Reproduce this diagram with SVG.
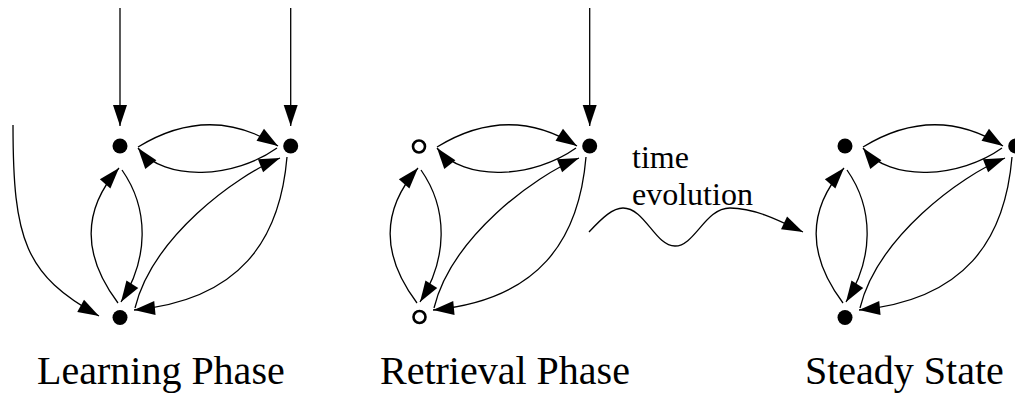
<svg xmlns="http://www.w3.org/2000/svg" width="1015" height="394" viewBox="0 0 1015 394" font-family="'Liberation Serif', serif">
  <defs>
    <marker id="ah" markerUnits="userSpaceOnUse" markerWidth="24" markerHeight="16" refX="21" refY="7" orient="auto" overflow="visible">
      <path d="M0,0 L21,7 L0,14 z" fill="#000" stroke="none"/>
    </marker>
  </defs>
  <rect width="1015" height="394" fill="#fff"/>

  <g id="connectors" fill="none" stroke="#000" stroke-width="1.3" marker-end="url(#ah)">
    <g id="edges-learning">
      <path d="M120,8 L120,126"/>
      <path d="M290.7,8 L290.7,126"/>
      <path d="M13,125 C13,240 25,275 99,316"/>
      <path d="M138,147 Q210,103 278,146"/>
      <path d="M277,148 C235,178 165,183 138,148"/>
      <path d="M118,303 C82,255 82,210 119,168"/>
      <path d="M122,170 C150,210 148,260 121,302"/>
      <path d="M135,308 C152,238 235,176 280,158"/>
      <path d="M287,157 C280,240 240,300 134,310"/>
    </g>
    <g id="edges-retrieval" transform="translate(299,0)">
      <path d="M290.7,8 L290.7,126"/>
      <path d="M138,147 Q210,103 278,146"/>
      <path d="M277,148 C235,178 165,183 138,148"/>
      <path d="M118,303 C82,255 82,210 119,168"/>
      <path d="M122,170 C150,210 148,260 121,302"/>
      <path d="M135,308 C152,238 235,176 280,158"/>
      <path d="M287,157 C280,240 240,300 134,310"/>
    </g>
    <path id="time-evolution" d="M589,232 C603,217 613,208 623,208 C645,208 655,246 675,246 C695,246 705,208 730,208 C755,208 780,221 803,232"/>
    <g id="edges-steady" transform="translate(725,0)">
      <path d="M138,147 Q210,103 278,146"/>
      <path d="M277,148 C235,178 165,183 138,148"/>
      <path d="M118,303 C82,255 82,210 119,168"/>
      <path d="M122,170 C150,210 148,260 121,302"/>
      <path d="M135,308 C152,238 235,176 280,158"/>
      <path d="M287,157 C280,240 240,300 134,310"/>
    </g>
  </g>

  <g id="learning-a"><circle cx="120" cy="146" r="7.5" fill="#000"/></g>
  <g id="learning-b"><circle cx="290.7" cy="146" r="7.5" fill="#000"/></g>
  <g id="learning-c"><circle cx="120" cy="317.5" r="7.5" fill="#000"/></g>

  <g id="retrieval-a"><circle cx="419" cy="146.5" r="6" fill="#fff" stroke="#000" stroke-width="2.6"/></g>
  <g id="retrieval-b"><circle cx="589.7" cy="146" r="7.5" fill="#000"/></g>
  <g id="retrieval-c"><circle cx="419.5" cy="317" r="6" fill="#fff" stroke="#000" stroke-width="2.6"/></g>

  <g id="steady-a"><circle cx="845" cy="146" r="7.5" fill="#000"/></g>
  <g id="steady-b"><circle cx="1015.7" cy="146" r="7.5" fill="#000"/></g>
  <g id="steady-c"><circle cx="845" cy="317.5" r="7.5" fill="#000"/></g>

  <text x="632" y="168" font-family="'Liberation Serif', serif" font-size="32" style="font-family: 'Liberation Serif', 'Times New Roman', serif !important">time</text>
  <text x="632" y="205" font-family="'Liberation Serif', serif" font-size="32" style="font-family: 'Liberation Serif', 'Times New Roman', serif !important">evolution</text>
  <text x="37" y="384" font-family="'Liberation Serif', serif" font-size="40" style="font-family: 'Liberation Serif', 'Times New Roman', serif !important">Learning Phase</text>
  <text x="380" y="384" font-family="'Liberation Serif', serif" font-size="40" style="font-family: 'Liberation Serif', 'Times New Roman', serif !important">Retrieval Phase</text>
  <text x="805" y="384" font-family="'Liberation Serif', serif" font-size="40" style="font-family: 'Liberation Serif', 'Times New Roman', serif !important">Steady State</text>
</svg>
